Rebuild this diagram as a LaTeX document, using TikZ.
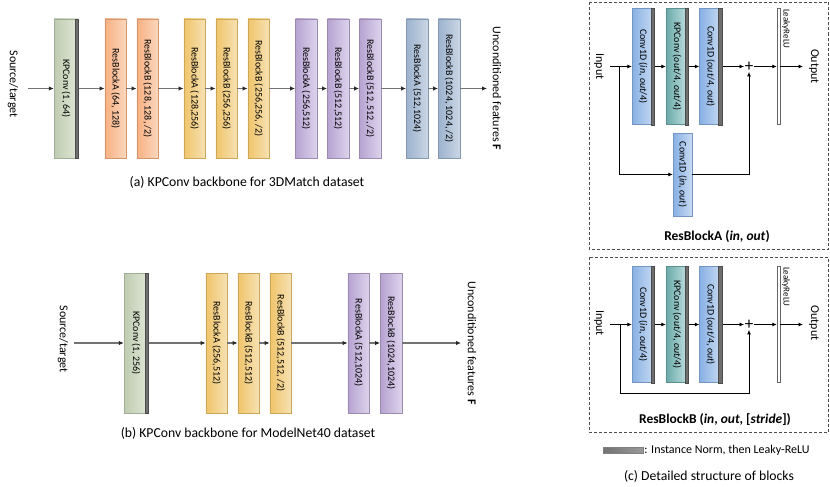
\documentclass[tikz,border=0pt]{standalone}
\usepackage{fontspec}
\setmainfont{Carlito}
\usetikzlibrary{arrows.meta}

\definecolor{kpgreenL}{RGB}{190,204,176}
\definecolor{kpgreenR}{RGB}{224,231,215}
\definecolor{orangeL}{RGB}{247,176,130}
\definecolor{orangeR}{RGB}{251,216,190}
\definecolor{yellowL}{RGB}{240,196,106}
\definecolor{yellowR}{RGB}{246,226,180}
\definecolor{purpleL}{RGB}{182,162,209}
\definecolor{purpleR}{RGB}{220,211,236}
\definecolor{steelL}{RGB}{156,178,205}
\definecolor{steelR}{RGB}{202,214,230}
\definecolor{convL}{RGB}{136,176,228}
\definecolor{convR}{RGB}{200,219,242}
\definecolor{tealL}{RGB}{106,170,170}
\definecolor{tealR}{RGB}{194,224,224}
\definecolor{normgray}{RGB}{110,110,110}

\begin{document}
\begin{tikzpicture}[x=1pt,y=-1pt,
    block/.style 2 args={draw=#1!85!black,left color=#1,right color=#2,
      inner sep=0pt,line width=0.4pt},
    txt/.style={rotate=-90,inner sep=0pt,font=\fontsize{10}{12}\selectfont},
    big/.style={minimum height=139pt,minimum width=21.5pt},
    small/.style={minimum height=116pt,minimum width=22pt},
    normbar/.style={fill=normgray,draw=black!70,line width=0.3pt},
    arr/.style={draw=black!55,line width=1.2pt,-{Latex[length=5pt,width=4.5pt,color=black!85]}},
    carr/.style={draw=black,line width=0.8pt,-{Latex[length=4.5pt,width=4pt]}},
    side/.style={rotate=-90,font=\fontsize{12}{14}\selectfont},
    plus/.style={font=\fontsize{17}{18}\selectfont,inner sep=0.5pt},
    caption/.style={font=\fontsize{13.7}{16}\selectfont},
    title/.style={font=\fontsize{13.5}{16}\selectfont\bfseries}]
    \useasboundingbox (0,0) rectangle (830,487);

    % (a) 3DMatch backbone
    \node[side] (srcA) at (13,84) {Source/target};
    \coordinate (inA) at (28,88.5);
    \node[block={kpgreenL}{kpgreenR},big,minimum width=24pt,label={[txt]center:KPConv (1, 64)}] (kpA) at (66,88.5) {};
    \node[block={orangeL}{orangeR},big,label={[txt]center:ResBlockA (64, 128)}] (a1) at (115.5,88.5) {};
    \node[block={orangeL}{orangeR},big,label={[txt]center:ResBlockB (128, 128, /2)}] (a2) at (147.5,88.5) {};
    \node[block={yellowL}{yellowR},big,label={[txt]center:ResBlockA (128,256)}] (a3) at (194.5,88.5) {};
    \node[block={yellowL}{yellowR},big,label={[txt]center:ResBlockB (256,256)}] (a4) at (226.5,88.5) {};
    \node[block={yellowL}{yellowR},big,label={[txt]center:ResBlockB (256,256, /2)}] (a5) at (258.5,88.5) {};
    \node[block={purpleL}{purpleR},big,label={[txt]center:ResBlockA (256,512)}] (a6) at (306,88.5) {};
    \node[block={purpleL}{purpleR},big,label={[txt]center:ResBlockB (512,512)}] (a7) at (338,88.5) {};
    \node[block={purpleL}{purpleR},big,label={[txt]center:ResBlockB (512, 512, /2)}] (a8) at (370,88.5) {};
    \node[block={steelL}{steelR},big,label={[txt]center:ResBlockA (512,1024)}] (a9) at (417,88.5) {};
    \node[block={steelL}{steelR},big,label={[txt]center:ResBlockB (1024, 1024, /2)}] (a10) at (449,88.5) {};
    \coordinate (outA) at (487,88.5);
    \node[side] (featA) at (497,88.5) {Unconditioned features $\mathbf{F}$};
    \foreach \u/\v in {inA/kpA,kpA/a1,a1/a2,a2/a3,a3/a4,a4/a5,a5/a6,a6/a7,a7/a8,a8/a9,a9/a10,a10/outA}
        \draw[arr] (\u) -- (\v);
    \node[caption] (capA) at (247,182) {(a) KPConv backbone for 3DMatch dataset};

    % (b) ModelNet40 backbone
    \node[side] (srcB) at (63,339) {Source/target};
    \coordinate (inB) at (74,343);
    \node[block={kpgreenL}{kpgreenR},big,minimum height=140pt,minimum width=24pt,label={[txt]center:KPConv (1, 256)}] (kpB) at (136,343) {};
    \node[block={yellowL}{yellowR},big,minimum height=140pt,label={[txt]center:ResBlockA (256,512)}] (b1) at (216.5,343) {};
    \node[block={yellowL}{yellowR},big,minimum height=140pt,label={[txt]center:ResBlockB (512,512)}] (b2) at (248.5,343) {};
    \node[block={yellowL}{yellowR},big,minimum height=140pt,label={[txt]center:ResBlockB (512,512, /2)}] (b3) at (280.5,343) {};
    \node[block={purpleL}{purpleR},big,minimum height=140pt,label={[txt]center:ResBlockA (512,1024)}] (b4) at (358.5,343) {};
    \node[block={purpleL}{purpleR},big,minimum height=140pt,label={[txt]center:ResBlockB (1024,1024)}] (b5) at (391,343) {};
    \coordinate (outB) at (461,343);
    \node[side] (featB) at (472,343) {Unconditioned features $\mathbf{F}$};
    \foreach \u/\v in {inB/kpB,kpB/b1,b1/b2,b2/b3,b3/b4,b4/b5,b5/outB}
        \draw[arr] (\u) -- (\v);
    \node[caption] (capB) at (248,433) {(b) KPConv backbone for ModelNet40 dataset};

    % (c) ResBlockA
    \draw[black!70,line width=0.6pt,dash pattern=on 3pt off 2pt] (589,2) rectangle (828.5,249);
    \node[side] (inpA) at (599,66.5) {Input};
    \coordinate (sA) at (610,66.5);
    \coordinate (brA) at (619,66.5);
    \node[block={convL}{convR},small,label={[txt]center:Conv1D (\textit{in}, \textit{out}/4)}] (cA1) at (643,66.5) {};
    \node[block={tealL}{tealR},small,label={[txt]center:KPConv (\textit{out}/4, \textit{out}/4)}] (cA2) at (677,66.5) {};
    \node[block={convL}{convR},small,label={[txt]center:Conv1D (\textit{out}/4, \textit{out})}] (cA3) at (710.5,66.5) {};
    \node[block={convL}{convR},minimum height=83pt,minimum width=19pt,label={[txt]center:Conv1D (\textit{in}, \textit{out})}] (cA4) at (682.5,174.5) {};
    \node[plus] (plusA) at (749,66.5) {+};
    \node[draw=black!60,fill=white,line width=0.5pt,inner sep=0pt,minimum width=3pt,minimum height=116pt] (reluA) at (778.5,66.5) {};
    \node[rotate=-90,anchor=west,inner sep=0pt,font=\fontsize{9}{11}\selectfont] (reluAt) at (786,9) {LeakyReLU};
    \coordinate (oA) at (803,66.5);
    \node[side] (outpA) at (814,66.5) {Output};
    \draw[carr] (sA) -- (cA1);
    \draw[carr] (cA1) -- (cA2);
    \draw[carr] (cA2) -- (cA3);
    \draw[carr] (cA3) -- (plusA);
    \draw[carr] (plusA) -- (reluA);
    \draw[carr] (reluA) -- (oA);
    \draw[carr] (brA) |- (cA4.west);
    \draw[carr] (cA4.east) -| (plusA.south);
    \node[title] (tA) at (717,237) {ResBlockA (\textit{in}, \textit{out})};

    % (c) ResBlockB
    \draw[black!70,line width=0.6pt,dash pattern=on 3pt off 2pt] (589,257) rectangle (828.5,432);
    \node[side] (inpB) at (599,323) {Input};
    \coordinate (sB) at (610,324.5);
    \coordinate (brB) at (620,324.5);
    \coordinate (lowB) at (620,393);
    \node[block={convL}{convR},small,label={[txt]center:Conv1D (\textit{in}, \textit{out}/4)}] (cB1) at (643,324.5) {};
    \node[block={tealL}{tealR},small,label={[txt]center:KPConv (\textit{out}/4, \textit{out}/4)}] (cB2) at (677,324.5) {};
    \node[block={convL}{convR},small,label={[txt]center:Conv1D (\textit{out}/4, \textit{out})}] (cB3) at (710.5,324.5) {};
    \node[plus] (plusB) at (749,324.5) {+};
    \node[draw=black!60,fill=white,line width=0.5pt,inner sep=0pt,minimum width=3pt,minimum height=116pt] (reluB) at (778.5,324.5) {};
    \node[rotate=-90,anchor=west,inner sep=0pt,font=\fontsize{9}{11}\selectfont] (reluBt) at (786,267) {LeakyReLU};
    \coordinate (oB) at (803,324.5);
    \node[side] (outpB) at (814,323) {Output};
    \draw[carr] (sB) -- (cB1);
    \draw[carr] (cB1) -- (cB2);
    \draw[carr] (cB2) -- (cB3);
    \draw[carr] (cB3) -- (plusB);
    \draw[carr] (plusB) -- (reluB);
    \draw[carr] (reluB) -- (oB);
    \draw[carr] (brB) -- (lowB) -| (plusB.south);
    \node[title] (tB) at (715,420) {ResBlockB (\textit{in}, \textit{out}, [\textit{stride}])};

    % norm bars on the right side of blocks
    \foreach \n in {kpA,kpB,cA1,cA2,cA3,cB1,cB2,cB3}
        \draw[normbar] ([xshift=-3.5pt]\n.north east) rectangle (\n.south east);

    % legend and caption
    \node[draw=black!50,left color=black!55,right color=black!40,inner sep=0pt,minimum width=40pt,minimum height=6pt] (legbar) at (623,450) {};
    \node[anchor=west,inner sep=1pt,font=\fontsize{12}{14}\selectfont] (legtxt) at (legbar.east) {: Instance Norm, then Leaky-ReLU};
    \node[caption] (capC) at (709,476) {(c) Detailed structure of blocks};
\end{tikzpicture}
\end{document}
